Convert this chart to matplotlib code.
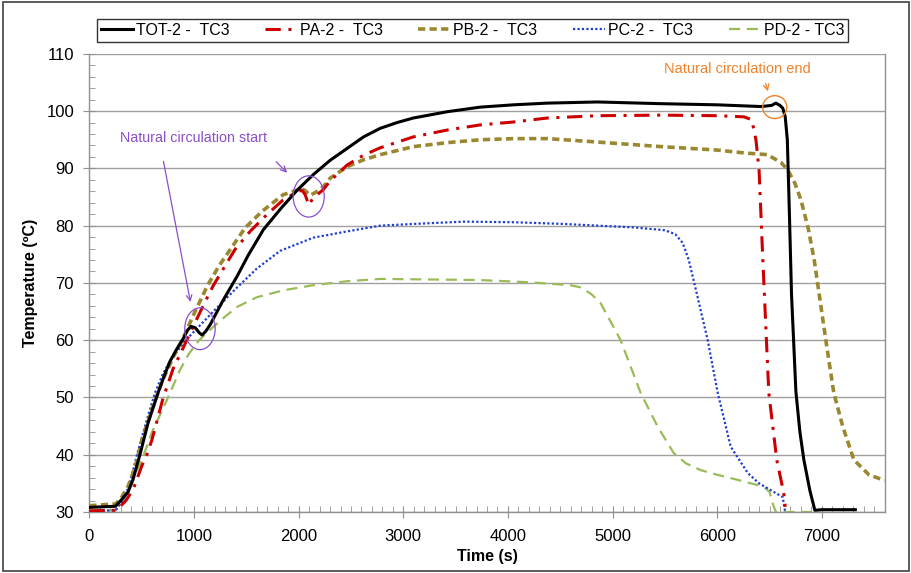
import matplotlib
matplotlib.use("Agg")
import matplotlib.pyplot as plt
from matplotlib.patches import Ellipse, Rectangle
from matplotlib.ticker import MultipleLocator

plt.rcParams['font.family'] = ['Liberation Sans', 'DejaVu Sans']

# ---------------- data ----------------
tot_t = [0, 250, 300, 370, 416, 483, 560, 656, 720, 770, 830, 895, 940, 970, 1010, 1050, 1077, 1110, 1154,
         1282, 1410, 1517, 1663, 1830, 1986, 2139, 2300, 2464, 2620, 2780, 2940, 3096, 3421, 3737,
         4053, 4378, 4856, 5464, 6000, 6421, 6520, 6560, 6600, 6627, 6650, 6670, 6690, 6710,
         6752, 6790, 6828, 6885, 6933, 7000, 7320]
tot_v = [30.8, 31.0, 32.0, 33.5, 35.6, 40.0, 45.5, 50.8, 54.0, 56.3, 58.3, 60.2, 61.8, 62.4, 62.2, 61.3, 60.9, 61.5, 62.7,
         67.1, 71.1, 74.8, 79.3, 83.0, 86.2, 88.9, 91.4, 93.5, 95.5, 97.0, 98.0, 98.8, 99.9, 100.7,
         101.1, 101.4, 101.6, 101.3, 101.1, 100.8, 101.0, 101.4, 101.0, 100.5, 99.0, 95.0, 82.0, 68.0,
         51.0, 44.0, 39.1, 33.8, 30.3, 30.4, 30.4]

pa_t = [0, 260, 350, 420, 500, 549, 598, 700, 800, 900, 943, 990, 1100, 1186, 1390, 1536, 1700, 1852, 1986,
        2030, 2060, 2097, 2130, 2177, 2236, 2300, 2464, 2620, 2780, 3096, 3421, 3737, 4053, 4378, 4856,
        5464, 6000, 6256, 6330, 6370, 6400, 6436, 6493, 6569, 6636, 6650]
pa_v = [30.2, 30.3, 32.0, 34.0, 38.0, 40.0, 42.6, 49.6, 55.0, 58.8, 60.5, 62.3, 66.5, 69.6, 75.8, 79.0, 82.0, 84.5, 85.9,
        86.2, 85.5, 83.6, 84.6, 85.4, 86.3, 87.8, 90.6, 92.3, 93.6, 95.5, 96.7, 97.6, 98.1, 98.8, 99.2,
        99.3, 99.2, 99.0, 98.5, 95.0, 89.7, 74.0, 50.8, 39.1, 33.3, 30.9]

pb_t = [0, 250, 300, 370, 440, 502, 600, 700, 800, 900, 943, 1000, 1130, 1240, 1345, 1488, 1650, 1852,
        1986, 2030, 2070, 2110, 2160, 2236, 2301, 2464, 2620, 2780, 3096, 3421, 3737, 4053, 4378, 4856,
        5464, 6000, 6256, 6480, 6611, 6675, 6740, 6800, 6870, 6927, 7038, 7114, 7200, 7306, 7450, 7600]
pb_v = [31.1, 31.4, 32.3, 34.5, 38.0, 42.6, 48.0, 53.0, 57.0, 60.5, 62.3, 64.6, 69.6, 73.0, 75.8, 79.6, 82.5, 85.4,
        86.2, 86.5, 86.0, 85.3, 85.8, 86.8, 88.3, 90.3, 91.5, 92.4, 93.8, 94.5, 95.0, 95.2, 95.2, 94.6,
        93.8, 93.2, 92.7, 92.4, 91.0, 89.7, 87.5, 84.5, 79.5, 74.0, 60.0, 50.8, 44.9, 39.1, 36.5, 35.5]

pc_t = [0, 250, 300, 350, 400, 455, 540, 627, 700, 770, 900, 1000, 1200, 1400, 1600, 1823, 2139, 2464,
        2780, 3096, 3579, 4053, 4531, 4856, 5200, 5500, 5600, 5670, 5728, 5800, 5909, 6005, 6129,
        6292, 6400, 6512, 6626, 6640, 6650]
pc_v = [30.1, 30.3, 31.5, 33.0, 36.0, 40.0, 45.5, 50.8, 54.0, 56.3, 59.6, 61.5, 65.3, 69.0, 72.5, 75.6, 77.9, 79.0,
        80.0, 80.3, 80.7, 80.6, 80.3, 80.0, 79.7, 79.2, 78.5, 77.0, 74.0, 68.5, 60.0, 50.8, 41.4,
        36.8, 35.0, 33.8, 32.6, 31.0, 30.0]

pd_t = [0, 250, 300, 350, 420, 500, 600, 742, 866, 950, 1040, 1105, 1250, 1410, 1600, 1852, 2139, 2464,
        2780, 3258, 3737, 4215, 4598, 4700, 4800, 4885, 5077, 5268, 5431, 5584, 5700, 5843, 6000,
        6197, 6445, 6500, 6530, 6560, 6900]
pd_v = [30.2, 30.3, 31.0, 33.0, 36.0, 39.0, 44.0, 49.6, 54.8, 57.6, 59.8, 61.0, 63.4, 65.8, 67.5, 68.7, 69.6, 70.3,
        70.7, 70.6, 70.5, 70.1, 69.6, 69.2, 68.0, 66.5, 60.0, 50.8, 44.9, 40.3, 38.5, 37.3, 36.5,
        35.6, 34.4, 33.5, 31.5, 30.0, 30.0]

labels = ["TOT-2 -  TC3", "PA-2 -  TC3", "PB-2 -  TC3", "PC-2 -  TC3", "PD-2 - TC3"]
x_ticks = [0, 1000, 2000, 3000, 4000, 5000, 6000, 7000]
y_ticks = [30, 40, 50, 60, 70, 80, 90, 100, 110]

# ---------------- figure ----------------
fig = plt.figure(figsize=(9.12, 5.73), dpi=100)
ax = fig.add_axes([0.098, 0.1065, 0.872, 0.7995])

ax.plot(tot_t, tot_v, color='black', lw=2.2, ls='-', label=labels[0], zorder=6)
ax.plot(pa_t, pa_v, color='#CC0000', lw=2.2, ls=(0, (5, 2.5, 1, 2.5)), label=labels[1], zorder=5)
ax.plot(pb_t, pb_v, color='#9A8830', lw=2.6, ls=(0, (2, 1.2)), label=labels[2], zorder=4)
ax.plot(pc_t, pc_v, color='#1F3FD0', lw=1.6, ls=(0, (1, 1)), label=labels[3], zorder=3)
ax.plot(pd_t, pd_v, color='#9BBB59', lw=1.6, ls=(0, (5, 3)), label=labels[4], zorder=2)

ax.set_xlim(0, 7600)
ax.set_ylim(30, 110)
ax.set_xticks(x_ticks)
ax.set_yticks(y_ticks)
ax.xaxis.set_minor_locator(MultipleLocator(100))
ax.yaxis.set_minor_locator(MultipleLocator(2))
ax.grid(axis='y', which='major', color='#A0A0A0', lw=1.0)
ax.set_axisbelow(True)
for s in ax.spines.values():
    s.set_color('#909090')
    s.set_linewidth(1.0)
ax.spines['top'].set_visible(False)
ax.tick_params(which='major', direction='inout', length=8, color='#909090', labelsize=12)
ax.tick_params(axis='x', which='major', pad=8)
ax.tick_params(axis='y', which='major', pad=7)
ax.tick_params(which='minor', direction='in', length=4, color='#909090')
ax.tick_params(axis='y', which='both', right=False)
ax.set_xlabel('Time (s)', fontsize=11.5, fontweight='bold', labelpad=4)
ax.set_ylabel('Temperature (ºC)', fontsize=11.5, fontweight='bold', labelpad=6)

leg = fig.legend(loc='lower left', bbox_to_anchor=(0.106, 0.927, 0.824, 0.042), mode='expand',
                 ncol=5, fontsize=11.5, frameon=True, fancybox=False, handlelength=2.0,
                 handletextpad=0.2, borderpad=0.25, columnspacing=1.0, borderaxespad=0)
leg.get_frame().set_edgecolor('black')
leg.get_frame().set_linewidth(1.0)

# annotations
purple = '#8B4FC9'
orange = '#F0822A'
ax.text(292, 95.3, 'Natural circulation start', color=purple, fontsize=10.3, va='center', ha='left')
ax.annotate('', xy=(971, 66.2), xytext=(703, 91.7),
            arrowprops=dict(arrowstyle='->', color=purple, lw=0.9))
ax.annotate('', xy=(1909, 88.9), xytext=(1766, 91.5),
            arrowprops=dict(arrowstyle='->', color=purple, lw=0.9))
ax.add_patch(Ellipse((1057, 62.0), 290, 7.3, fill=False, edgecolor=purple, lw=0.9, zorder=7))
ax.add_patch(Ellipse((2096, 85.1), 297, 7.2, fill=False, edgecolor=purple, lw=0.9, zorder=7))

ax.text(5488, 107.4, 'Natural circulation end', color=orange, fontsize=10.5, va='center', ha='left')
ax.annotate('', xy=(6493, 103.0), xytext=(6455, 105.3),
            arrowprops=dict(arrowstyle='->', color=orange, lw=0.9))
ax.add_patch(Ellipse((6550, 100.7), 230, 4.0, fill=False, edgecolor=orange, lw=1.0, zorder=7))

fig.patches.append(Rectangle((0.003, 0.004), 0.994, 0.992, transform=fig.transFigure,
                             fill=False, edgecolor='#404040', lw=1.2))

fig.savefig('out.png', dpi=100)
